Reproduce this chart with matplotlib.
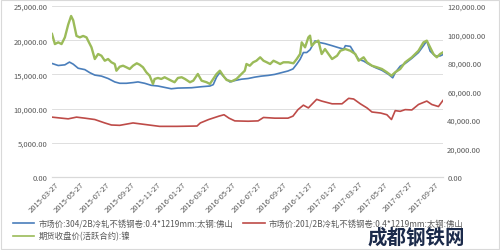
import pandas as pd
import matplotlib.pyplot as plt
from matplotlib.lines import Line2D
from matplotlib.patches import Rectangle

plt.rcParams['font.family'] = ['Noto Sans CJK SC', 'DejaVu Sans']

# 304/2B 冷轧 (left axis)
blue_dates = ['2015-03-20', '2015-04-04', '2015-04-20', '2015-05-01', '2015-05-10', '2015-05-22',
              '2015-06-07', '2015-06-19', '2015-07-01', '2015-07-17', '2015-08-02', '2015-08-18',
              '2015-08-30', '2015-09-15', '2015-10-01', '2015-10-13', '2015-10-29', '2015-11-14',
              '2015-11-30', '2015-12-16', '2016-01-01', '2016-01-17', '2016-02-19', '2016-03-14',
              '2016-04-03', '2016-04-11', '2016-04-19', '2016-04-27', '2016-05-09', '2016-05-21',
              '2016-06-02', '2016-06-18', '2016-07-04', '2016-07-20', '2016-08-05', '2016-08-21',
              '2016-09-06', '2016-09-22', '2016-10-08', '2016-10-20', '2016-10-29', '2016-11-06',
              '2016-11-14', '2016-11-22', '2016-11-30', '2016-12-12', '2016-12-20', '2017-01-05',
              '2017-01-22', '2017-02-07', '2017-02-19', '2017-02-23', '2017-03-07', '2017-03-19',
              '2017-03-27', '2017-04-08', '2017-04-20', '2017-05-06', '2017-05-22', '2017-06-07',
              '2017-06-17', '2017-06-23', '2017-07-05', '2017-07-17', '2017-08-02', '2017-08-18',
              '2017-08-30', '2017-09-07', '2017-09-15', '2017-09-27', '2017-10-09', '2017-10-16']
blue_vals = [16600, 16300, 16400, 16800, 16500, 15900,
             15700, 15250, 14900, 14750, 14400, 13900,
             13700, 13700, 13800, 13900, 13700, 13400,
             13300, 13100, 12900, 13000, 13050, 13200,
             13300, 13500, 14600, 15300, 14500, 13900,
             14100, 14300, 14400, 14600, 14750, 14850,
             15000, 15250, 15500, 15800, 16500, 17200,
             18200, 18200, 18600, 19900, 19700, 19500,
             19200, 18900, 18700, 19200, 19100, 17900,
             17200, 16950, 16500, 16000, 15600, 15000,
             14500, 15250, 16200, 16600, 17350, 18200,
             19200, 19900, 18400, 17700, 17700, 17900]

# 201/2B 冷轧 (left axis)
red_dates = ['2015-03-20', '2015-04-12', '2015-04-28', '2015-05-18', '2015-06-07', '2015-07-01',
             '2015-07-25', '2015-08-10', '2015-08-30', '2015-10-01', '2015-11-02', '2015-12-04',
             '2016-01-15', '2016-03-03', '2016-03-11', '2016-03-31', '2016-04-25', '2016-05-07',
             '2016-05-19', '2016-06-02', '2016-07-04', '2016-07-28', '2016-08-10', '2016-09-06',
             '2016-10-08', '2016-10-20', '2016-11-01', '2016-11-14', '2016-11-26', '2016-12-16',
             '2016-12-28', '2017-01-22', '2017-02-15', '2017-03-03', '2017-03-15', '2017-03-31',
             '2017-04-16', '2017-04-28', '2017-05-19', '2017-06-03', '2017-06-14', '2017-06-23',
             '2017-07-05', '2017-07-17', '2017-08-02', '2017-08-18', '2017-09-07', '2017-09-19',
             '2017-10-05', '2017-10-16']
red_vals = [8750, 8600, 8500, 8750, 8600, 8400,
            7900, 7600, 7550, 7900, 7650, 7400,
            7400, 7450, 7900, 8400, 8900, 9100,
            8600, 8200, 8150, 8200, 8700, 8600,
            8600, 8900, 9850, 10500, 10100, 11350,
            11100, 10700, 10700, 11500, 11400, 10700,
            10100, 9500, 9350, 9100, 8400, 9700,
            9600, 9850, 9800, 10600, 11100, 10600,
            10300, 11200]

# 镍期货 (right axis)
green_dates = ['2015-03-20', '2015-03-27', '2015-04-04', '2015-04-12', '2015-04-20', '2015-04-28',
               '2015-05-05', '2015-05-10', '2015-05-18', '2015-05-26', '2015-06-03', '2015-06-11',
               '2015-06-15', '2015-06-23', '2015-07-01', '2015-07-09', '2015-07-17', '2015-07-25',
               '2015-08-02', '2015-08-10', '2015-08-18', '2015-08-22', '2015-08-30', '2015-09-07',
               '2015-09-15', '2015-09-23', '2015-10-01', '2015-10-10', '2015-10-17', '2015-10-25',
               '2015-11-02', '2015-11-10', '2015-11-18', '2015-11-22', '2015-11-30', '2015-12-08',
               '2015-12-16', '2015-12-24', '2016-01-01', '2016-01-09', '2016-01-17', '2016-01-26',
               '2016-02-03', '2016-02-15', '2016-02-23', '2016-03-05', '2016-03-14', '2016-03-26',
               '2016-04-03', '2016-04-11', '2016-04-19', '2016-04-27', '2016-05-05', '2016-05-13',
               '2016-05-25', '2016-06-06', '2016-06-18', '2016-06-26', '2016-06-30', '2016-07-08',
               '2016-07-16', '2016-07-24', '2016-08-02', '2016-08-10', '2016-08-18', '2016-08-26',
               '2016-09-03', '2016-09-11', '2016-09-19', '2016-09-27', '2016-10-09', '2016-10-21',
               '2016-10-29', '2016-11-06', '2016-11-10', '2016-11-18', '2016-11-26', '2016-11-30',
               '2016-12-04', '2016-12-12', '2016-12-20', '2016-12-28', '2017-01-05', '2017-01-22',
               '2017-02-03', '2017-02-11', '2017-02-23', '2017-03-07', '2017-03-19', '2017-03-27',
               '2017-04-08', '2017-04-16', '2017-04-28', '2017-05-10', '2017-05-22', '2017-06-03',
               '2017-06-14', '2017-06-23', '2017-07-05', '2017-07-17', '2017-08-02', '2017-08-18',
               '2017-08-30', '2017-09-07', '2017-09-15', '2017-09-23', '2017-10-01', '2017-10-09',
               '2017-10-16']
green_vals = [100400, 93300, 94500, 93300, 98000, 107000,
              113000, 110000, 99000, 98000, 99000, 98000,
              95600, 91000, 82800, 86300, 85100, 81600,
              82800, 80500, 79300, 74600, 77400, 78100,
              77000, 75800, 78100, 79800, 78800, 77000,
              73500, 71100, 65300, 68800, 69500, 68800,
              70000, 68800, 67600, 66500, 69500, 70000,
              68800, 66500, 67600, 72300, 67600, 66500,
              65300, 68800, 72300, 74600, 71100, 68100,
              67100, 68800, 72300, 74600, 79300, 78100,
              80500, 81600, 84000, 81600, 80500, 79300,
              81600, 80500, 79300, 80500, 80500, 79800,
              82800, 86300, 94500, 91000, 98000, 99200,
              92100, 94500, 95700, 86300, 89800, 82800,
              85100, 88600, 89800, 88600, 86300, 81600,
              84000, 80500, 78100, 77000, 75800, 73500,
              71100, 73500, 75800, 80500, 84000, 88600,
              94500, 95700, 91000, 86300, 84000, 86300,
              87500]

tick_dates = ['2015-03-27', '2015-05-27', '2015-07-27', '2015-09-27', '2015-11-27', '2016-01-27',
              '2016-03-27', '2016-05-27', '2016-07-27', '2016-09-27', '2016-11-27', '2017-01-27',
              '2017-03-27', '2017-05-27', '2017-07-27', '2017-09-27']

blue_label = '市场价:304/2B冷轧不锈钢卷:0.4*1219mm:太钢:佛山'
red_label = '市场价:201/2B冷轧不锈钢卷:0.4*1219mm:太钢:佛山'
green_label = '期货收盘价(活跃合约):镍'

c_blue = '#4A7EBB'
c_red = '#BE4B48'
c_green = '#9BBB59'
txt = '#595959'

fig = plt.figure(figsize=(5.0, 2.51), dpi=100)
ax = fig.add_axes([0.104, 0.291, 0.782, 0.681])
ax2 = ax.twinx()

ax.plot(pd.to_datetime(blue_dates), blue_vals, color=c_blue, lw=1.2)
ax.plot(pd.to_datetime(red_dates), red_vals, color=c_red, lw=1.2)
ax2.plot(pd.to_datetime(green_dates), green_vals, color=c_green, lw=1.7)

ax.set_ylim(0, 25000)
ax.set_yticks(range(0, 25001, 5000))
ax.set_yticklabels(['{:,.2f}'.format(v) for v in range(0, 25001, 5000)])
ax2.set_ylim(0, 120000)
ax2.set_yticks(range(0, 120001, 20000))
ax2.set_yticklabels(['{:,.2f}'.format(v) for v in range(0, 120001, 20000)])

ax.set_xlim(pd.Timestamp('2015-03-20'), pd.Timestamp('2017-10-16'))
ax.set_xticks(pd.to_datetime(tick_dates))
ax.set_xticklabels(tick_dates, rotation=45, ha='right', rotation_mode='anchor')

ax.grid(axis='y', color='#D9D9D9', lw=0.6)
ax.set_axisbelow(True)
for a in (ax, ax2):
    for s in ('top', 'left', 'right'):
        a.spines[s].set_visible(False)
    a.spines['bottom'].set_color('#D9D9D9')
    a.tick_params(length=0, labelsize=5.5, colors=txt, pad=3)
ax.tick_params(axis='x', pad=2)

handles = [Line2D([], [], color=c_blue, lw=1.2),
           Line2D([], [], color=c_green, lw=1.2),
           Line2D([], [], color=c_red, lw=1.2)]
fig.legend(handles, [blue_label, green_label, red_label], ncol=2, loc='upper left',
           bbox_to_anchor=(0.01, 0.155), frameon=False, fontsize=6, labelcolor=txt,
           handlelength=2.6, handletextpad=0.5, columnspacing=1.2, labelspacing=0.45)

# 水印
fig.text(0.735, 0.03, '成都钢铁网', fontsize=14, fontweight='bold', color='#1B2A4A')

fig.patches.append(Rectangle((0.002, 0.004), 0.996, 0.992, transform=fig.transFigure,
                             fill=False, edgecolor='#D9D9D9', lw=0.8))

plt.savefig('out.png', dpi=100)
